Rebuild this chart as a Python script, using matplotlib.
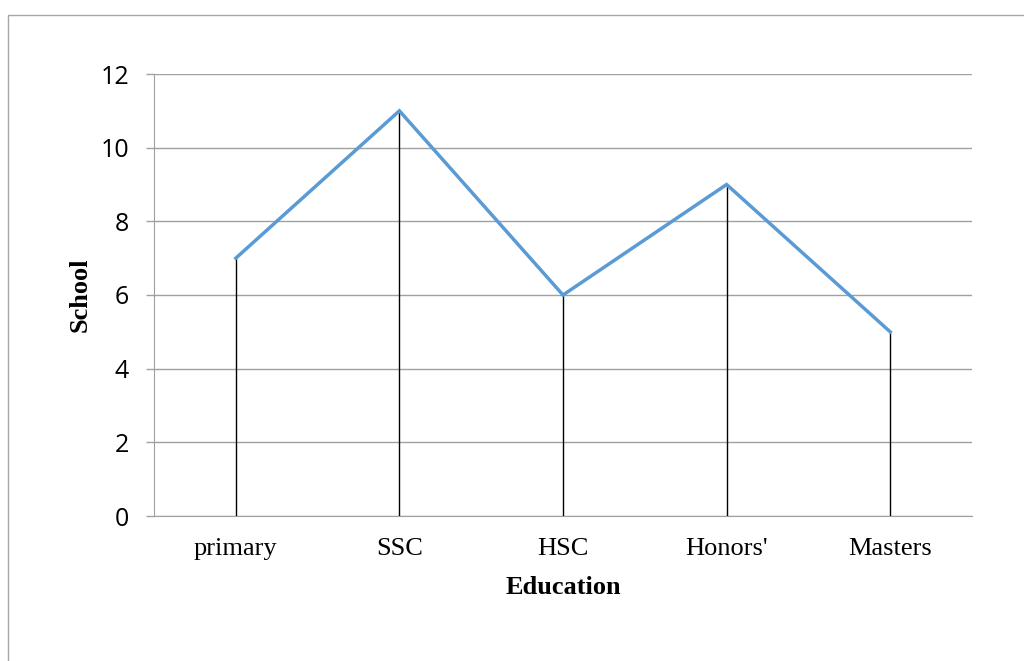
import matplotlib
matplotlib.use("Agg")
import matplotlib.pyplot as plt
from matplotlib.patches import Rectangle

categories = ["primary", "SSC", "HSC", "Honors'", "Masters"]
values = [7, 11, 6, 9, 5]
yticks = [0, 2, 4, 6, 8, 10, 12]

W, H = 1024, 661
fig = plt.figure(figsize=(W / 100, H / 100), dpi=100)
fig.patch.set_facecolor("white")

# outer chart border
fig.add_artist(Rectangle((8 / W, -0.05), 1.1, (H - 15) / H + 0.05, transform=fig.transFigure,
                         fill=False, edgecolor="#A6A6A6", linewidth=1.0))

left, right, top, bottom = 154, 972, 74, 516
ax = fig.add_axes([left / W, 1 - bottom / H, (right - left) / W, (bottom - top) / H])

x = list(range(len(categories)))
ax.vlines(x, 0, values, colors="black", linewidth=1.0, zorder=3)
ax.plot(x, values, color="#5B9BD5", linewidth=2.5, zorder=4, solid_joinstyle="miter")

ax.set_xlim(-0.5, len(categories) - 0.5)
ax.set_ylim(0, 12)
ax.set_yticks(yticks)
ax.set_yticklabels([str(v) for v in yticks], fontfamily="Open Sans", fontsize=18)
ax.set_xticks(x)
ax.set_xticklabels(categories, fontfamily="Liberation Serif", fontsize=19)
ax.tick_params(axis="x", length=0, pad=16)
ax.tick_params(axis="y", length=6, width=1, color="#A0A0A0", pad=12, direction="out")

ax.grid(axis="y", color="#A0A0A0", linewidth=1.0)
ax.set_axisbelow(True)
for s in ["top", "right"]:
    ax.spines[s].set_visible(False)
ax.spines["left"].set_color("#A0A0A0")
ax.spines["bottom"].set_color("#A0A0A0")

fig.text(563 / W, 1 - 587 / H, "Education", ha="center", va="center",
         fontfamily="Liberation Serif", fontweight="bold", fontsize=19)
fig.text(80 / W, 1 - 295 / H, "School", ha="center", va="center", rotation=90,
         fontfamily="Liberation Serif", fontweight="bold", fontsize=19)

fig.savefig("out.png", dpi=100)
